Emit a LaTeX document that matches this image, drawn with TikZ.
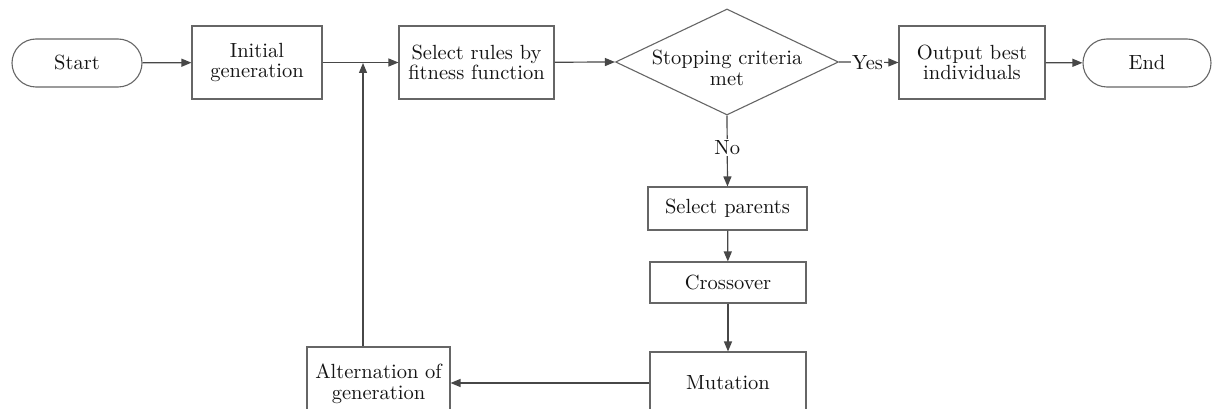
\documentclass[tikz,border=0pt]{standalone}
\usepackage{fontspec}
\newfontfamily\lmten{lmroman10-regular.otf}
\usetikzlibrary{arrows.meta,shapes.geometric}
\begin{document}
\begin{tikzpicture}[x=1pt,y=-1pt,
  every node/.style={font=\lmten\fontsize{20.5}{20.5}\selectfont, text=black!92},
  box/.style={draw=black!60, line width=1.1pt, fill=white, align=center, inner sep=0pt},
  term/.style={box, rounded corners=24pt, minimum width=#1, minimum height=48pt},
  proc/.style={box},
  conn/.style={draw=black!72, line width=1.2pt, -{Triangle[length=10pt,width=8pt]}},
  lbl/.style={fill=white, inner sep=1pt}]
\useasboundingbox (0,0) rectangle (1212,409);
\clip (0,0) rectangle (1212,409);
\fill[white] (0,0) rectangle (1212,409);

\node[term=130pt] (start) at (77,63) {Start};
\node[proc, minimum width=130pt, minimum height=73pt] (init) at (257,62.5) {Initial\\generation};
\node[proc, minimum width=155pt, minimum height=73pt] (sel) at (476.5,62.5) {Select rules by\\fitness function};
\node[diamond, draw=black!60, line width=1.1pt, fill=white, aspect=2.1, minimum width=223pt, minimum height=106pt, inner sep=0pt] (dec) at (727,62) {};
\node[align=center, inner sep=0pt] (dectext) at (727,68) {Stopping criteria\\met};
\node[proc, minimum width=146pt, minimum height=73pt] (out) at (972,62.5) {Output best\\individuals};
\node[term=128pt] (end) at (1147,63) {End};
\node[proc, minimum width=159pt, minimum height=43pt] (par) at (727.5,208.5) {Select parents};
\node[proc, minimum width=156pt, minimum height=41pt] (cross) at (728,282.5) {Crossover};
\node[proc, minimum width=156pt, minimum height=62pt] (mut) at (728,383) {Mutation};
\node[proc, minimum width=143pt, minimum height=74pt] (alt) at (378.5,384) {Alternation of\\generation};

\coordinate (j) at (363,63);

\draw[conn] (start) -- (init);
\draw[conn] (init) -- (sel);
\draw[conn] (alt.north -| j) -- (j);
\draw[conn] (sel) -- (dec.west);
\draw[conn] (dec.east) -- node[lbl, pos=0.48] (yes) {Yes} (out.west);
\draw[conn] (out) -- (end);
\draw[conn] (dec.south) -- node[lbl, pos=0.45] (no) {No} (par.north);
\draw[conn] (par) -- (cross);
\draw[conn] (cross) -- (mut);
\draw[conn] (mut.west) -- (mut.west -| alt.east);
\end{tikzpicture}
\end{document}
